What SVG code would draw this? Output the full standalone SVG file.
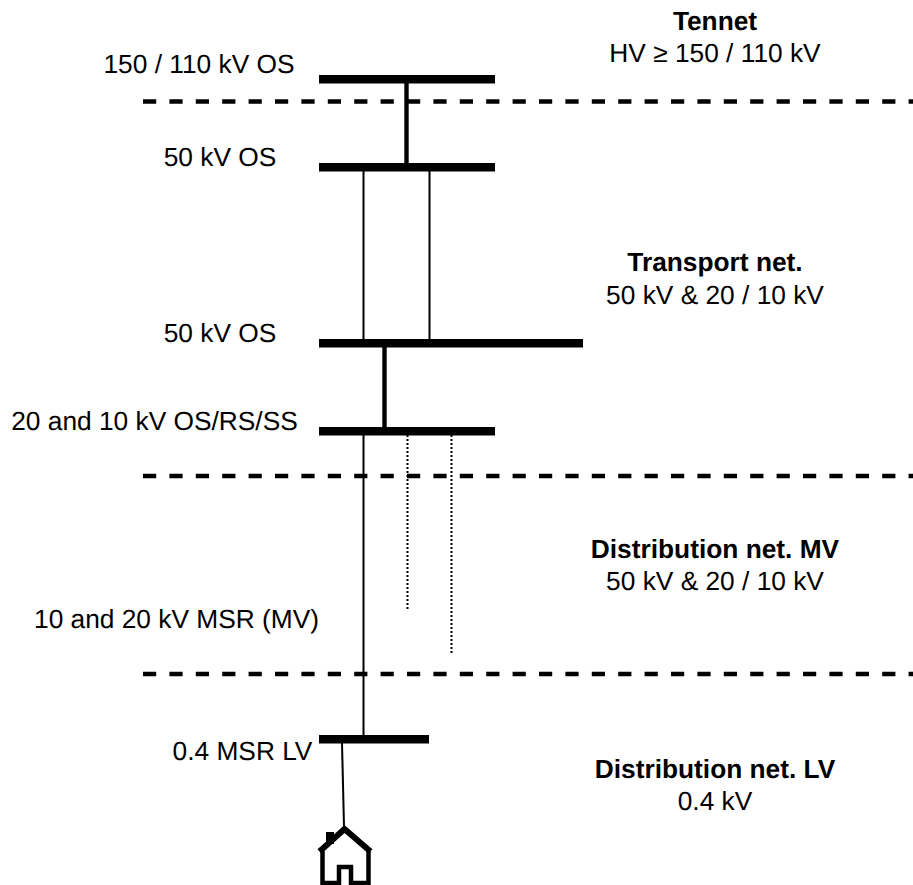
<svg xmlns="http://www.w3.org/2000/svg" width="913" height="885" viewBox="0 0 913 885">
<style>
text{font-family:"Liberation Sans",Arial,sans-serif;font-size:26.300px;fill:#000;text-rendering:geometricPrecision}
.m{text-anchor:middle}
.b{font-weight:bold}
.bar{fill:#000}
.dash{stroke:#000;stroke-width:4.400;stroke-dasharray:13.2 13.2;fill:none}
.thick{stroke:#000;stroke-width:4.400;fill:none}
.thin{stroke:#000;stroke-width:2;fill:none}
.dot{stroke:#000;stroke-width:2;stroke-dasharray:2 2;fill:none}
</style>
<rect width="913" height="885" fill="#fff"/>
<g id="connectors">
<path class="dash" d="M143 101.500H913"/>
<path class="dash" d="M143 476H913"/>
<path class="dash" d="M143 674H913"/>
<path class="thick" d="M406.500 83V163"/>
<path class="thin" d="M363.500 171V339"/>
<path class="thin" d="M429.500 171V339"/>
<path class="thick" d="M384.500 347V427"/>
<path class="thin" d="M363.500 435V735"/>
<path class="dot" d="M407.500 435V610"/>
<path class="dot" d="M451.500 435V654"/>
<path class="thin" d="M342 743L344 826"/>
</g>
<g id="bus-150"><rect class="bar" x="319" y="75" width="176" height="8.500"/><text class="m" x="199" y="73">150 / 110 kV OS</text></g>
<g id="bus-50-top"><rect class="bar" x="319" y="163" width="176" height="8.500"/><text class="m" x="220" y="166">50 kV OS</text></g>
<g id="bus-50-bottom"><rect class="bar" x="319" y="339" width="264" height="8.500"/><text class="m" x="220" y="342">50 kV OS</text></g>
<g id="bus-20-10"><rect class="bar" x="319" y="427" width="176" height="8.500"/><text class="m" x="154.500" y="430">20 and 10 kV OS/RS/SS</text></g>
<g id="msr-mv"><text class="m" x="176.500" y="628">10 and 20 kV MSR (MV)</text></g>
<g id="bus-04"><rect class="bar" x="319" y="735" width="110" height="8.500"/><text class="m" x="242.500" y="760">0.4 MSR LV</text></g>
<g id="house">
<path d="M319.500 851.500L344.500 829L370.500 851.500" fill="none" stroke="#000" stroke-width="6"/>
<path d="M322.500 849V883H339V867H351V883H368.500V849" fill="none" stroke="#000" stroke-width="4.500"/>
<rect class="bar" x="326" y="832" width="8" height="12"/>
</g>
<g id="zone-tennet"><text class="m b" x="715" y="29.500">Tennet</text><text class="m" x="715" y="62">HV ≥ 150 / 110 kV</text></g>
<g id="zone-transport"><text class="m b" x="715" y="271">Transport net.</text><text class="m" x="715" y="304">50 kV &amp; 20 / 10 kV</text></g>
<g id="zone-mv"><text class="m b" x="715" y="558">Distribution net. MV</text><text class="m" x="715" y="590">50 kV &amp; 20 / 10 kV</text></g>
<g id="zone-lv"><text class="m b" x="715" y="778">Distribution net. LV</text><text class="m" x="715" y="810">0.4 kV</text></g>
</svg>
